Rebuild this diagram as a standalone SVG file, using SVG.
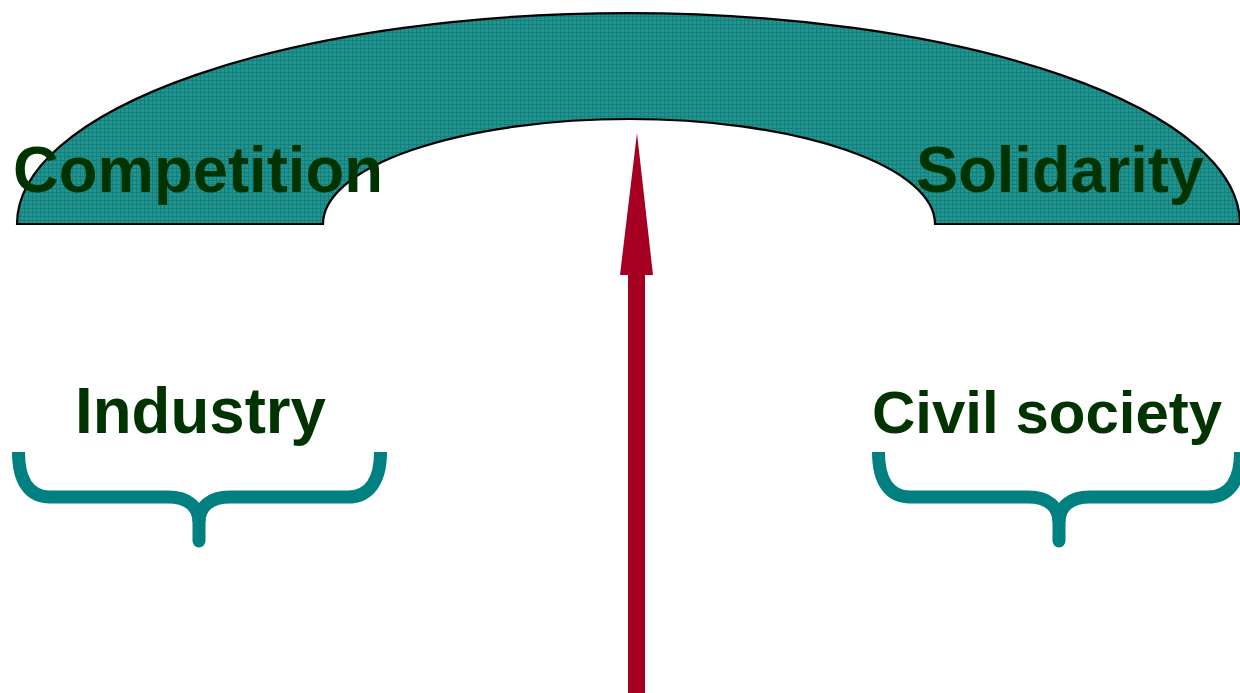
<svg xmlns="http://www.w3.org/2000/svg" width="1240" height="693" viewBox="0 0 1240 693">
<style>
.lbl{font-family:"Liberation Sans",Arial,sans-serif;font-weight:bold;font-size:65px;fill:#003300}
.brace{fill:none;stroke:#008080;stroke-width:13}
</style>
<defs>
<pattern id="grid" width="4" height="4" patternUnits="userSpaceOnUse">
<rect width="4" height="4" fill="#22948f"/>
<path d="M0,0.5H4M0.5,0V4" stroke="#157f7c" stroke-width="1"/>
</pattern>
</defs>
<rect width="1240" height="693" fill="#ffffff"/>
<g id="arch">
<path d="M17,224 A611.5,211 0 0 1 1240,224 L935,224 A306,105 0 0 0 323,224 Z" fill="url(#grid)" stroke="#000000" stroke-width="2.2"/>
</g>
<g id="competition"><text class="lbl" x="13" y="192" textLength="370" lengthAdjust="spacingAndGlyphs">Competition</text></g>
<g id="solidarity"><text class="lbl" x="916" y="192" textLength="288" lengthAdjust="spacingAndGlyphs">Solidarity</text></g>
<g id="industry">
<text class="lbl" x="75" y="433" textLength="251" lengthAdjust="spacingAndGlyphs">Industry</text>
<path class="brace" d="M18.5,452 C18.5,482 30,497 50,497 L168,497 C188,497 199,507 199,522 M199,522 C199,507 210,497 230,497 L348,497 C368,497 380.5,482 380.5,452"/>
<line x1="199" y1="518" x2="199" y2="541" stroke="#008080" stroke-width="13" stroke-linecap="round"/>
</g>
<g id="civil-society">
<text class="lbl" x="872" y="433" style="font-size:60px">Civil society</text>
<path class="brace" d="M878.5,452 C878.5,482 890,497 910,497 L1028,497 C1048,497 1059,507 1059,522 M1059,522 C1059,507 1070,497 1090,497 L1208,497 C1228,497 1240.5,482 1240.5,452"/>
<line x1="1059" y1="518" x2="1059" y2="541" stroke="#008080" stroke-width="13" stroke-linecap="round"/>
</g>
<g id="connectors">
<path d="M628,693 L628,275 L620,275 L637,133 L653,275 L645,275 L645,693 Z" fill="#a50021"/>
</g>
</svg>
